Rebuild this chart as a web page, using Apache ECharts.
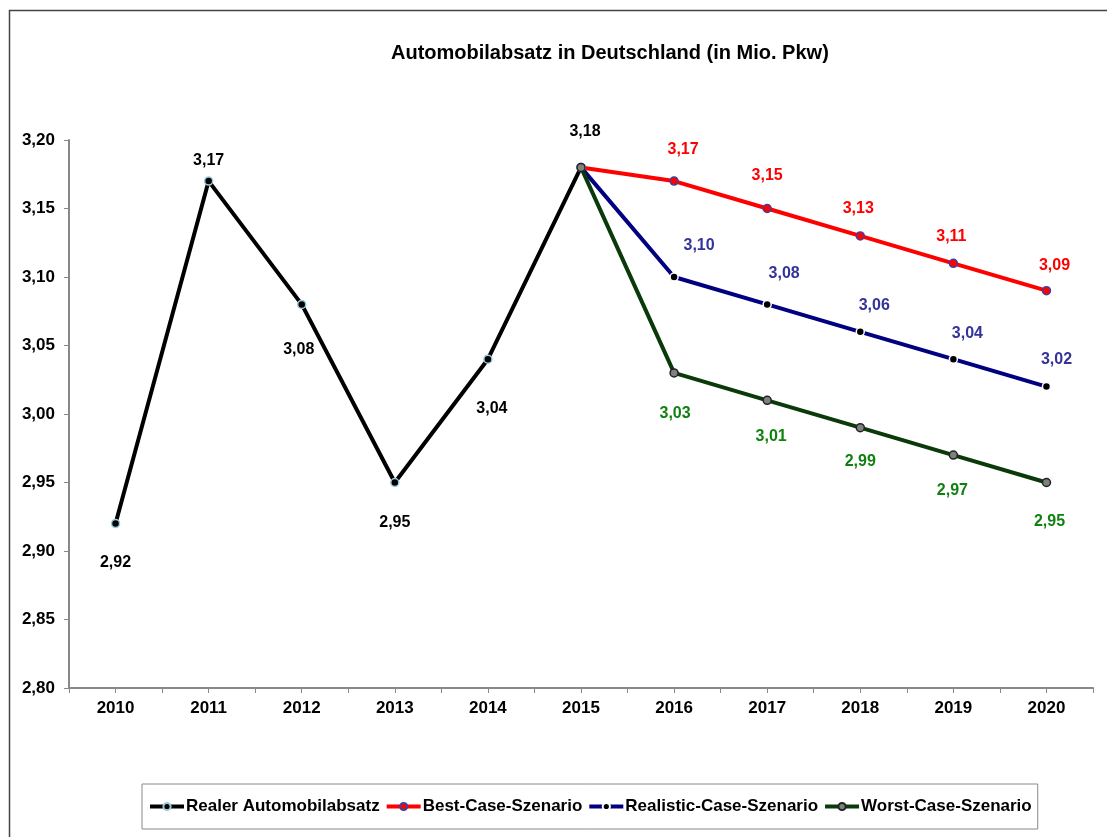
<!DOCTYPE html>
<html>
<head>
<meta charset="utf-8">
<script src="https://cdn.jsdelivr.net/npm/echarts@6/dist/echarts.min.js"></script>
<style>
html,body{margin:0;padding:0;background:#fff;}
#c{width:1107px;height:837px;}
</style>
</head>
<body>
<div id="c"></div>
<script>
const categories = ['2010','2011','2012','2013','2014','2015','2016','2017','2018','2019','2020'];
const realValues = [2.92, 3.17, 3.08, 2.95, 3.04, 3.18, null, null, null, null, null];
const bestValues = [null, null, null, null, null, 3.18, 3.17, 3.15, 3.13, 3.11, 3.09];
const realisticValues = [null, null, null, null, null, 3.18, 3.10, 3.08, 3.06, 3.04, 3.02];
const worstValues = [null, null, null, null, null, 3.18, 3.03, 3.01, 2.99, 2.97, 2.95];
const yTicks = { min: 2.80, max: 3.20, interval: 0.05 };

// label placement (offset of label centre from point), styling only
const realOffsets = [[0,39],[0,-21],[-3,45],[0,40],[4,49],[4,-36]];
const bestOffsets = [[9,-32],[0,-33],[-2,-27],[-2,-27],[8,-25]];
const realisticOffsets = [[25,-31],[17,-31],[14,-26],[14,-26],[10,-27]];
const worstOffsets = [[1,41],[4,36],[0,34],[-1,35],[3,39]];

const FONT = 'Arial, "Liberation Sans", sans-serif';
const fmt = v => v.toFixed(2).replace('.', ',');

function buildData(values, offsets, startIdx, showFirst) {
  let k = 0;
  return values.map((v, i) => {
    if (v === null) return null;
    if (i < startIdx) return v;
    if (i === startIdx && !showFirst) return { value: v, label: { show: false } };
    const off = offsets[k++] || [0, 0];
    return { value: v, label: { show: true, position: 'inside', offset: off } };
  });
}

function series(name, values, offsets, lineColor, markColor, markBorder, labelColor, startIdx, showFirst, z) {
  return {
    name, type: 'line', data: buildData(values, offsets, startIdx, showFirst),
    symbol: 'circle', symbolSize: 8, z,
    lineStyle: { color: lineColor, width: 4 },
    itemStyle: { color: markColor, borderColor: markBorder, borderWidth: 1.5 },
    label: {
      show: false, formatter: p => fmt(p.value), color: labelColor,
      fontFamily: FONT, fontWeight: 'bold', fontSize: 16
    },
    emphasis: { disabled: true },
    animation: false
  };
}

const chart = echarts.init(document.getElementById('c'));
chart.setOption({
  backgroundColor: '#fff',
  animation: false,
  graphic: [{
    type: 'rect', shape: { x: 9.5, y: 10.5, width: 1200, height: 900 },
    style: { fill: 'none', stroke: '#444', lineWidth: 1.5 }, silent: true, z: -1
  }],
  title: {
    text: 'Automobilabsatz in Deutschland (in Mio. Pkw)',
    left: 386, top: 38,
    textStyle: { fontFamily: FONT, fontWeight: 'bold', fontSize: 20, color: '#000' }
  },
  legend: {
    bottom: 8, left: 142,
    data: ['Realer Automobilabsatz', 'Best-Case-Szenario', 'Realistic-Case-Szenario', 'Worst-Case-Szenario'],
    borderColor: '#888', borderWidth: 1, padding: [14, 6, 14, 6],
    itemGap: 5, itemWidth: 34, itemHeight: 9,
    lineStyle: { width: 4 },
    textStyle: { fontFamily: FONT, fontWeight: 'bold', fontSize: 17, color: '#000', padding: [0,0,0,-3] }
  },
  grid: { left: 69, right: 14, top: 140, bottom: 149, containLabel: false },
  xAxis: [{
    type: 'category', data: categories, boundaryGap: true,
    axisLine: { lineStyle: { color: '#888', width: 2 } },
    axisTick: { show: true, length: 5, lineStyle: { color: '#888' } },
    axisLabel: { fontFamily: FONT, fontWeight: 'bold', fontSize: 17, color: '#000', margin: 12 },
    splitLine: { show: false }
  }, {
    type: 'category', data: categories, boundaryGap: true, position: 'bottom',
    axisLine: { show: false },
    axisTick: { show: true, alignWithLabel: true, length: 5, lineStyle: { color: '#888' } },
    axisLabel: { show: false }, splitLine: { show: false }
  }],
  yAxis: {
    type: 'value', min: yTicks.min, max: yTicks.max, interval: yTicks.interval,
    axisLine: { show: true, lineStyle: { color: '#888', width: 2 } },
    axisTick: { show: true, length: 5, lineStyle: { color: '#888' } },
    axisLabel: { fontFamily: FONT, fontWeight: 'bold', fontSize: 17, color: '#000', margin: 14, formatter: fmt },
    splitLine: { show: false }
  },
  series: [
    series('Realer Automobilabsatz', realValues, realOffsets, '#000', '#000', '#9cd', '#000', 0, true, 4),
    series('Best-Case-Szenario', bestValues, bestOffsets, '#ff0000', '#ff0000', '#4040a0', '#ff0000', 5, false, 2),
    series('Realistic-Case-Szenario', realisticValues, realisticOffsets, '#000080', '#000', '#fff', '#333399', 5, false, 3),
    series('Worst-Case-Szenario', worstValues, worstOffsets, '#0a3a0a', '#808080', '#222', '#108010', 5, false, 5)
  ]
});
</script>
</body>
</html>
